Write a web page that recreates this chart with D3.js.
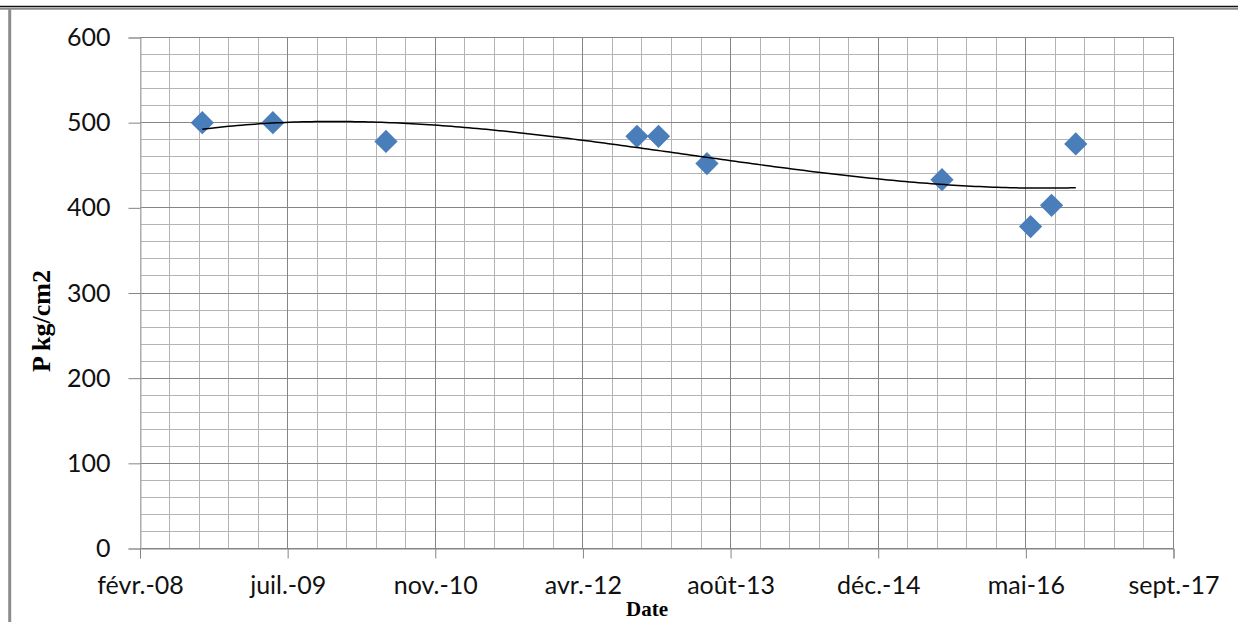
<!DOCTYPE html>
<html>
<head>
<meta charset="utf-8">
<script src="https://cdn.jsdelivr.net/npm/d3@7"></script>
<style>
  body { margin: 0; background: #fff; }
  svg { display: block; }
</style>
</head>
<body>
<svg id="chart" width="1238" height="622"></svg>
<script>
// Pressure measurements (kg/cm2) by sampling date
const sampleDates = ["2008-09-20", "2009-05-17", "2010-06-04", "2012-10-01", "2012-12-13",
                     "2013-05-26", "2015-07-31", "2016-05-26", "2016-08-05", "2016-10-26"];
const pressure = [500, 500, 478, 484, 484, 452, 433, 378, 403, 475];

// Date axis: 500-day major steps, 100-day minor steps
const dateAxisStart = "2008-02-22";
const dateAxisEnd = "2017-09-22";
const dateTicks = ["2008-02-22", "2009-07-06", "2010-11-18", "2012-04-01",
                   "2013-08-14", "2014-12-27", "2016-05-10", "2017-09-22"];
const dateTickLabels = ["févr.-08", "juil.-09", "nov.-10", "avr.-12",
                        "août-13", "déc.-14", "mai-16", "sept.-17"];
const pressureTicks = [0, 100, 200, 300, 400, 500, 600];

const parse = d3.utcParse("%Y-%m-%d");
const data = sampleDates.map((d, i) => ({ date: parse(d), value: pressure[i] }));

const svg = d3.select("#chart");
const plot = { left: 140, right: 1173.5, top: 37.5, bottom: 548.5 };

const x = d3.scaleUtc()
  .domain([parse(dateAxisStart), parse(dateAxisEnd)])
  .range([plot.left, plot.right]);
const y = d3.scaleLinear()
  .domain([0, 600])
  .range([plot.bottom, plot.top]);

const snap = v => Math.round(v - 0.5) + 0.5;

// Outer frame
svg.append("line").attr("x1", 0).attr("x2", 1238).attr("y1", 6.5).attr("y2", 6.5)
  .attr("stroke", "#111").attr("stroke-width", 1.6);
svg.append("line").attr("x1", 0).attr("x2", 1238).attr("y1", 8.7).attr("y2", 8.7)
  .attr("stroke", "#8a8a8a").attr("stroke-width", 2);
svg.append("line").attr("x1", 9.7).attr("x2", 9.7).attr("y1", 8).attr("y2", 622)
  .attr("stroke", "#8c8c8c").attr("stroke-width", 3);

const grid = svg.append("g");

// Minor gridlines
const minorDates = d3.range(0, 36).map(i => d3.utcDay.offset(parse(dateAxisStart), i * 100));
grid.selectAll(".vminor").data(minorDates).join("line")
  .attr("x1", d => snap(x(d))).attr("x2", d => snap(x(d)))
  .attr("y1", plot.top).attr("y2", plot.bottom)
  .attr("stroke", "#b4b4b4").attr("stroke-width", 1);
grid.selectAll(".hminor").data(d3.range(0, 601, 20)).join("line")
  .attr("x1", plot.left).attr("x2", plot.right)
  .attr("y1", d => snap(y(d))).attr("y2", d => snap(y(d)))
  .attr("stroke", "#b4b4b4").attr("stroke-width", 1);

// Major gridlines
grid.selectAll(".vmajor").data(dateTicks.slice(1)).join("line")
  .attr("x1", d => snap(x(parse(d)))).attr("x2", d => snap(x(parse(d))))
  .attr("y1", plot.top).attr("y2", plot.bottom)
  .attr("stroke", "#858585").attr("stroke-width", 1);
grid.selectAll(".hmajor").data(pressureTicks).join("line")
  .attr("x1", plot.left).attr("x2", plot.right)
  .attr("y1", d => snap(y(d))).attr("y2", d => snap(y(d)))
  .attr("stroke", "#858585").attr("stroke-width", 1);

// Y axis
const yAxis = svg.append("g")
  .attr("transform", `translate(${snap(plot.left)},0)`)
  .call(d3.axisLeft(y).tickValues(pressureTicks).tickSize(12).tickPadding(18)
        .tickFormat(d3.format("d")));
yAxis.select(".domain").attr("stroke", "#a8a8a8");
yAxis.selectAll(".tick line").attr("stroke", "#858585");
yAxis.selectAll(".tick text")
  .attr("font-family", "Lato, 'Liberation Sans', sans-serif")
  .attr("font-size", 25).attr("fill", "#111");

// X axis
const xAxis = svg.append("g")
  .attr("transform", `translate(0,${snap(plot.bottom)})`)
  .call(d3.axisBottom(x).tickValues(dateTicks.map(parse)).tickSize(10).tickPadding(18)
        .tickFormat((d, i) => dateTickLabels[i]));
xAxis.select(".domain").attr("stroke", "#858585");
xAxis.selectAll(".tick line").attr("stroke", "#858585");
xAxis.selectAll(".tick text")
  .attr("font-family", "Lato, 'Liberation Sans', sans-serif")
  .attr("font-size", 25).attr("fill", "#111");

// Cubic least-squares trend through the measurements
const t0 = data[0].date.getTime();
const dayMs = 864e5;
const scaleT = d => (d.getTime() - t0) / dayMs / 1000;
function polyFit(xs, ys, order) {
  const n = order + 1;
  const A = Array.from({ length: n }, () => new Array(n + 1).fill(0));
  xs.forEach((xv, k) => {
    for (let i = 0; i < n; i++) {
      for (let j = 0; j < n; j++) A[i][j] += Math.pow(xv, i + j);
      A[i][n] += ys[k] * Math.pow(xv, i);
    }
  });
  for (let c = 0; c < n; c++) {
    let p = c;
    for (let r = c + 1; r < n; r++) if (Math.abs(A[r][c]) > Math.abs(A[p][c])) p = r;
    [A[c], A[p]] = [A[p], A[c]];
    for (let r = 0; r < n; r++) {
      if (r === c) continue;
      const f = A[r][c] / A[c][c];
      for (let k = c; k <= n; k++) A[r][k] -= f * A[c][k];
    }
  }
  return A.map((row, i) => row[n] / row[i]);
}
const coef = polyFit(data.map(d => scaleT(d.date)), data.map(d => d.value), 3);
const evalPoly = t => coef.reduce((s, c, i) => s + c * Math.pow(t, i), 0);
const tStart = data[0].date.getTime(), tEnd = data[data.length - 1].date.getTime();
const trend = d3.range(0, 201).map(i => {
  const d = new Date(tStart + (tEnd - tStart) * i / 200);
  return { date: d, value: evalPoly(scaleT(d)) };
});

// Data markers
svg.append("g").selectAll("path").data(data).join("path")
  .attr("d", d3.symbol(d3.symbolSquare, 270)())
  .attr("transform", d => `translate(${x(d.date)},${y(d.value)}) rotate(45)`)
  .attr("fill", "#4a7ebb");

svg.append("path")
  .datum(trend)
  .attr("d", d3.line().x(d => x(d.date)).y(d => y(d.value)))
  .attr("fill", "none").attr("stroke", "#000").attr("stroke-width", 1.5);

// Axis titles
svg.append("text")
  .attr("transform", "translate(50,321) rotate(-90)")
  .attr("text-anchor", "middle")
  .attr("font-family", "'Liberation Serif', 'Times New Roman', serif")
  .attr("font-weight", "bold").attr("font-size", 26).attr("fill", "#000")
  .text("P kg/cm2");
svg.append("text")
  .attr("x", 647).attr("y", 616)
  .attr("text-anchor", "middle")
  .attr("font-family", "'Liberation Serif', 'Times New Roman', serif")
  .attr("font-weight", "bold").attr("font-size", 21).attr("fill", "#000")
  .text("Date");
</script>
</body>
</html>
